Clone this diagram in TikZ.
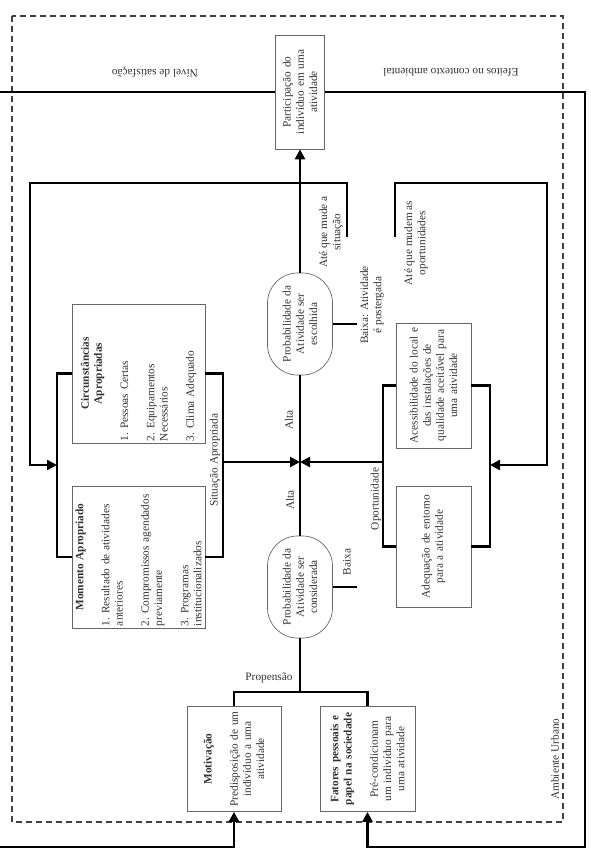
\documentclass[tikz,border=0pt]{standalone}
\usepackage{fontspec}
\setmainfont{Liberation Serif}
\usetikzlibrary{arrows.meta}

\begin{document}
\begin{tikzpicture}[x=1pt, y=-1pt, thick,
    font=\fontsize{11.3}{13.2}\selectfont, text=black!80,
    box/.style = {draw=black!60, line width=0.7pt, rotate=90, inner sep=1.5pt, align=center},
    oval/.style = {draw=black!60, line width=0.7pt, rotate=90, rounded corners=30pt, minimum width=102, minimum height=65, align=center, inner sep=1pt},
    flow/.style = {line width=2.6pt},
    tip/.style = {-{Triangle[length=10pt,width=10pt]}},
    lbl/.style = {rotate=90, align=center, inner sep=1pt}]
    \useasboundingbox (0,0) rectangle (591,867);

    \draw[black!75, line width=1.2pt, dash pattern=on 6pt off 4pt] (12,16) rectangle (563,822);

    \node[box, minimum width=114, minimum height=49, text width=110pt] (part) at (300,92) {Participação do\\ indivíduo em uma\\ atividade};
    \node[oval] (esc) at (300,324) {Probabilidade da\\ Atividade ser\\ escolhida};
    \node[oval] (cons) at (300,587) {Probabilidade da\\ Atividade ser\\ considerada};
    \node[box, align=left, minimum width=139, minimum height=133, text width=135pt] (circ) at (138.5,373.5) {\makebox[135pt]{\textbf{Circunstâncias}}\\ \makebox[135pt]{\textbf{Apropriadas}}\\[13pt] 1.\ Pessoas Certas\\[13pt] 2.\ Equipamentos\\ Necessários\\[13pt] 3.\ Clima Adequado};
    \node[box, align=left, minimum width=142, minimum height=133, text width=138pt] (mom) at (138.5,557) {\makebox[138pt]{\textbf{Momento Apropriado}}\\[13pt] 1.\ Resultado de atividades\\ anteriores\\[13pt] 2.\ Compromissos agendados\\ previamente\\[13pt] 3.\ Programas\\ institucionalizados};
    \node[box, minimum width=121, minimum height=75, text width=122pt] (acess) at (433.5,385.5) {Acessibilidade do local e\\ das instalações de\\ qualidade aceitável para\\ uma atividade};
    \node[box, minimum width=121, minimum height=75, text width=118pt] (adeq) at (433.5,546.5) {Adequação de entorno\\ para a atividade};
    \node[box, minimum width=102, minimum height=94, text width=102pt] (mot) at (234,759) {\textbf{Motivação}\\[13pt] Predisposição de um\\ indivíduo a uma\\ atividade};
    \node[box, minimum width=102, minimum height=95, text width=102pt] (fat) at (367.5,759) {\textbf{Fatores pessoais e}\\ \textbf{papel na sociedade}\\[13pt] Pré-condicionam\\ um indivíduo para\\ uma atividade};

    \coordinate (cross) at (300,462);
    \coordinate (prop) at (300,692);
    \coordinate (jl) at (57,465);
    \coordinate (jr) at (223,462);
    \coordinate (ol) at (383,462);
    \coordinate (or) at (490,465);
    \coordinate (s1) at (347,237);
    \coordinate (s2) at (395,237);
    \coordinate (b1) at (357,324);
    \coordinate (b2) at (357,587);

    \draw[flow] (mot.east) |- (prop) -| (fat.east);
    \draw[flow] (prop) -- (cons.west);
    \draw[flow] (cons.east) -- (esc.west);
    \draw[flow, tip] (esc.east) -- (part.west);
    \draw[flow] (esc.south) -- (b1);
    \draw[flow] (cons.south) -- (b2);
    \draw[flow] (circ.north) -| (jl) |- (mom.north);
    \draw[flow] (circ.south) -| (jr) |- (mom.south);
    \draw[flow, tip] (jr) -- (cross);
    \draw[flow] (acess.north) -| (ol) |- (adeq.north);
    \draw[flow, tip] (ol) -- (cross);
    \draw[flow] (acess.south) -| (or) |- (adeq.south);
    \draw[flow, tip] (s1) |- (30,183) |- (jl);
    \draw[flow, tip] (s2) |- (547,183) |- (or);
    \draw[flow, tip] (part.north) -- (-3,92) -- (-3,847) -| (mot.west);
    \draw[flow, tip] (part.south) -- (585,92) -- (585,847) -| (fat.west);

    \node[rotate=180] (nivel) at (155,72) {Nível de satisfação};
    \node[rotate=180] (efeitos) at (451,72) {Efeitos no contexto ambiental};
    \node (propensao) at (269,678) {Propensão};
    \node[lbl] (sit) at (215,460) {Situação Apropriada};
    \node[lbl] (oport) at (376,499) {Oportunidade};
    \node[lbl] (alta1) at (289,420) {Alta};
    \node[lbl] (alta2) at (290,500) {Alta};
    \node[lbl] (baixa) at (347,562) {Baixa};
    \node[lbl] (baixa2) at (372,305) {Baixa: Atividade\\ é postergada};
    \node[lbl] (ate1) at (331,232) {Até que mude a\\ situação};
    \node[lbl] (ate2) at (416,243) {Até que mudem as\\ oportunidades};
    \node[lbl] (amb) at (555,759) {Ambiente Urbano};
\end{tikzpicture}
\end{document}
